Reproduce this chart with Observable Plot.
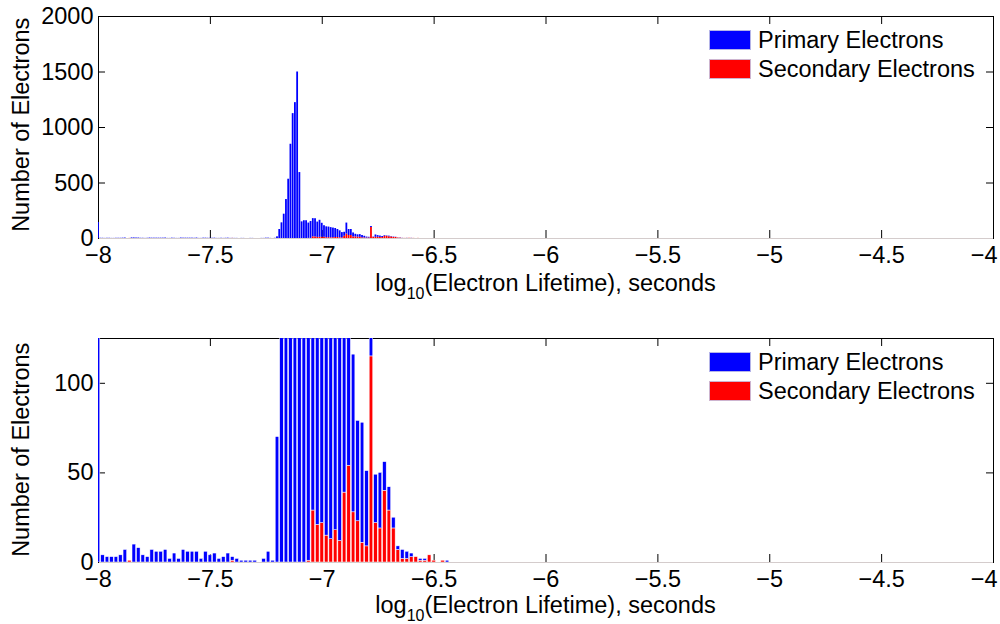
<!DOCTYPE html>
<html>
<head>
<meta charset="utf-8">
<script src="https://cdn.jsdelivr.net/npm/d3@7"></script>
<script src="https://cdn.jsdelivr.net/npm/@observablehq/plot@0.6"></script>
<style>
  body { margin: 0; background: #fff; font-family: "Liberation Sans", Arial, sans-serif; }
  #wrap { position: relative; width: 1000px; height: 624px; overflow: hidden; background: #fff; }
  .panel { position: absolute; left: 0; }
  .lbl { position: absolute; font-size: 23.5px; line-height: 23.5px; white-space: nowrap; color: #000; }
  .xlab { left: 98px; width: 895px; text-align: center; }
  .xlab .sub { font-size: 16px; position: relative; top: 8px; }
  .ylab { width: 300px; text-align: center; transform: rotate(-90deg); }
  .sw { position: absolute; width: 42px; height: 20px; box-sizing: border-box; border: 1px solid rgba(200,200,230,0.9); }
</style>
</head>
<body>
<div id="wrap"></div>
<script>
// ---------------- data ----------------
const binStart = -8;            // centre of first bin (log10 seconds)
const topBinWidth = 0.01;       // upper panel histogram bin width
const bottomBinWidth = 0.02;    // lower panel histogram bin width

const seriesNames = ["Primary Electrons", "Secondary Electrons"];
const seriesColors = ["#0000ff", "#ff0000"];

// upper panel: counts per 0.01 bin, starting at -8
const topPrimary = [
  144,
  2, 2, 1, 2, 2, 1, 1, 2, 2, 2, 3, 4, 0, 0, 5, 5, 4, 4, 2, 2,
  1, 2, 4, 3, 3, 3, 3, 3, 3, 4, 1, 1, 3, 2, 1, 1, 4, 3, 3, 3,
  3, 3, 2, 4, 1, 1, 3, 3, 2, 2, 2, 3, 1, 1, 2, 1, 2, 3, 1, 1,
  1, 1, 0, 1, 1, 0, 0, 1, 1, 0, 0, 0, 1, 1, 3, 3, 1, 0, 2, 15,
  81, 141, 219, 351, 534, 849, 1125, 1224, 1500, 594,
  150, 160, 160, 138, 152, 164, 164, 138, 153, 126,
  104, 98, 95, 92, 87, 81, 72, 63, 47, 36,
  99, 54, 54, 36, 24, 21, 24, 21, 15, 9,
  6, 9, 3, 21, 15, 12, 9, 6, 3, 6,
  3, 3, 2, 1, 2, 1, 0, 1, 0, 1
];
const topSecondary = [
  0, 0, 0, 0, 0, 0, 0, 0, 0, 0, 0, 0, 0, 0, 1, 0, 0, 0, 0, 0,
  0, 0, 0, 0, 0, 0, 0, 0, 0, 0, 0, 0, 0, 0, 0, 0, 0, 0, 0, 0,
  0, 0, 0, 0, 0, 0, 0, 0, 0, 0, 0, 0, 0, 0, 0, 0, 0, 0, 0, 0,
  1, 0, 0, 0, 0, 0, 0, 0, 0, 0, 0, 0, 0, 0, 0, 0, 0, 0, 0, 0,
  0, 0, 0, 0, 0, 0, 0, 0, 0, 0, 0, 0, 0, 0, 1, 1, 15, 14, 10, 11,
  11, 11, 7, 8, 6, 7, 9, 9, 6, 6, 20, 40, 27, 27, 14, 14, 12, 11, 6, 5,
  4, 5, 99, 10, 11, 11, 10, 9, 20, 20, 15, 14, 10, 9, 4, 3, 1, 1, 1, 2,
  1, 1, 0, 1
];

// lower panel: counts per 0.02 bin, starting at -8
const bottomPrimary = [
  145, 4, 3, 3, 3, 4, 7, 0, 10, 8,
  4, 3, 7, 6, 6, 7, 2, 5, 2, 7,
  6, 6, 6, 2, 6, 4, 5, 2, 3, 5,
  2, 2, 1, 1, 1, 1, 0, 2, 6, 1,
  70, 300, 800, 1700, 2300, 1600, 310, 300, 300, 270,
  250, 210, 185, 165, 130, 130, 150, 88, 56, 67,
  42, 15, 27, 31, 16, 13, 6, 2, 5, 4,
  2, 0, 1, 1, 0, 0, 0, 0, 1
];
const bottomSecondary = [
  0, 0, 0, 0, 0, 0, 0, 1, 0, 0,
  0, 0, 0, 0, 0, 0, 0, 0, 0, 0,
  0, 0, 0, 0, 0, 0, 0, 0, 0, 0,
  1, 0, 0, 0, 0, 0, 0, 0, 0, 0,
  0, 0, 0, 0, 0, 0, 0, 1, 29, 21,
  22, 15, 13, 18, 12, 39, 54, 28, 23, 11,
  9, 115, 22, 19, 40, 29, 19, 7, 2, 2,
  3, 3, 1, 1, 4, 1, 0, 1, 0
];

const xTicks = [-8, -7.5, -7, -6.5, -6, -5.5, -5, -4.5, -4];
const xDomain = [-8, -4];
const topYTicks = [0, 500, 1000, 1500, 2000];
const topYDomain = [0, 2000];
const bottomYTicks = [0, 50, 100];
const bottomYDomain = [0, 125];

const xLabelHTML = 'log<span class="sub">10</span>(Electron Lifetime), seconds';
const yLabelText = "Number of Electrons";

// ---------------- build ----------------
function stackRows(primary, secondary, width, frac) {
  const rows = [];
  const n = Math.max(primary.length, secondary.length);
  for (let i = 0; i < n; i++) {
    const c = binStart + i * width;
    const p = primary[i] || 0, s = secondary[i] || 0;
    const x1 = c - width * frac / 2, x2 = c + width * frac / 2;
    if (s > 0) rows.push({series: seriesNames[1], x1, x2, y1: 0, y2: s});
    if (p > 0) rows.push({series: seriesNames[0], x1, x2, y1: s, y2: s + p});
  }
  return rows;
}

const fmtX = d => String(d).replace("-", "\u2212");
const W = 1000, H = 312, ML = 98, MR = 7;

function panel({rows, yDomain, yTicks, marginTop, marginBottom, stroke, strokeWidth}) {
  const plotH = H - marginTop - marginBottom;
  const plotW = W - ML - MR;
  const innerTicks = xTicks.slice(0, -1);
  const lastTick = xTicks.slice(-1);
  return Plot.plot({
    width: W, height: H,
    marginTop, marginBottom, marginLeft: ML, marginRight: MR,
    style: {fontFamily: '"Liberation Sans", Arial, sans-serif', fontSize: "23.5px", background: "transparent", color: "#000", overflow: "visible"},
    x: {domain: xDomain},
    y: {domain: yDomain},
    color: {domain: seriesNames, range: seriesColors},
    marks: [
      Plot.frame({stroke: "#000", strokeWidth: 1}),
      Plot.tickX(xTicks, {x: d => d, insetTop: plotH - 8, stroke: "#000"}),
      Plot.tickX(xTicks, {x: d => d, insetBottom: plotH - 8, stroke: "#000"}),
      Plot.tickY(yTicks, {y: d => d, insetRight: plotW - 7, stroke: "#000"}),
      Plot.tickY(yTicks, {y: d => d, insetLeft: plotW - 7, stroke: "#000"}),
      Plot.ruleY([0], {stroke: "#d4cccc", strokeWidth: 1, insetLeft: 1}),
      Plot.rect(rows, {x1: "x1", x2: "x2", y1: "y1", y2: "y2", fill: "series", stroke, strokeWidth, clip: true}),
      Plot.axisX(innerTicks, {anchor: "bottom", tickSize: 0, tickPadding: 8, tickFormat: fmtX, label: null, fontSize: 23.5}),
      Plot.text(lastTick, {x: d => d, frameAnchor: "bottom", dy: 8, lineAnchor: "top", textAnchor: "end", dx: 4, text: fmtX, fontSize: 23.5}),
      Plot.axisY(yTicks, {anchor: "left", tickSize: 0, tickPadding: 5, tickFormat: d => String(d), label: null, fontSize: 23.5})
    ]
  });
}

const wrap = document.getElementById("wrap");

const panels = [
  {rows: stackRows(topPrimary, topSecondary, topBinWidth, 0.8), yDomain: topYDomain, yTicks: topYTicks,
   marginTop: 16, marginBottom: 74, top: 0, stroke: "none", strokeWidth: 0,
   xlabTop: 272, ylabCenter: 125, legendTop: 30},
  {rows: stackRows(bottomPrimary, bottomSecondary, bottomBinWidth, 0.8), yDomain: bottomYDomain, yTicks: bottomYTicks,
   marginTop: 26, marginBottom: 62, top: 312, stroke: "white", strokeWidth: 0.5,
   xlabTop: 594, ylabCenter: 450, legendTop: 352}
];

for (const p of panels) {
  const svg = panel(p);
  const div = document.createElement("div");
  div.className = "panel";
  div.style.top = p.top + "px";
  div.appendChild(svg);
  wrap.appendChild(div);

  const xl = document.createElement("div");
  xl.className = "lbl xlab";
  xl.style.top = p.xlabTop + "px";
  xl.innerHTML = xLabelHTML;
  wrap.appendChild(xl);

  const yl = document.createElement("div");
  yl.className = "lbl ylab";
  yl.style.left = (22 - 150) + "px";
  yl.style.top = (p.ylabCenter - 11.75) + "px";
  yl.textContent = yLabelText;
  wrap.appendChild(yl);

  seriesNames.forEach((name, i) => {
    const sw = document.createElement("div");
    sw.className = "sw";
    sw.style.left = "709px";
    sw.style.top = (p.legendTop + i * 29) + "px";
    sw.style.background = seriesColors[i];
    wrap.appendChild(sw);
    const t = document.createElement("div");
    t.className = "lbl";
    t.style.left = "758px";
    t.style.top = (p.legendTop + i * 29 - 1) + "px";
    t.textContent = name;
    wrap.appendChild(t);
  });
}
</script>
</body>
</html>
